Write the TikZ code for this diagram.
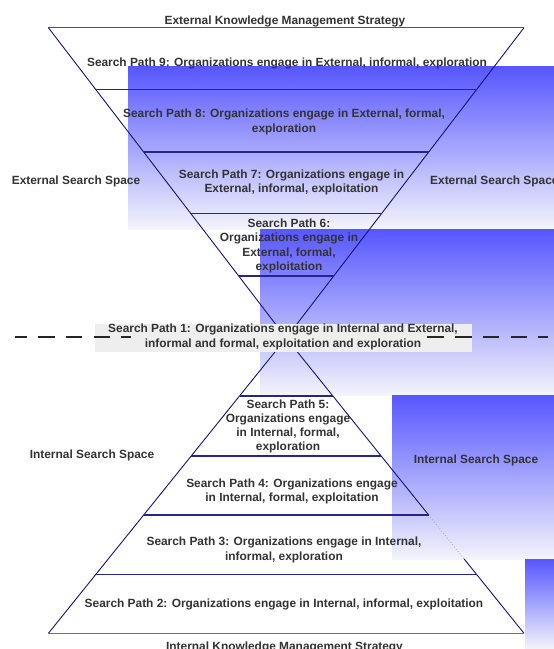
\documentclass[tikz,border=0pt]{standalone}
\usepackage{fontspec}
\setmainfont{Liberation Sans}
\usetikzlibrary{calc}
\definecolor{edgeblue}{HTML}{12127F}
\definecolor{divblue}{HTML}{262688}
\definecolor{rimblue}{HTML}{4B4BAE}
\definecolor{baseblue}{HTML}{6A6AB0}
\definecolor{labelgray}{HTML}{333333}
\definecolor{shadetop}{HTML}{5656FF}
\definecolor{shadebot}{HTML}{F4F4FB}
\definecolor{pathbox}{HTML}{EEEEEE}
\begin{document}
\begin{tikzpicture}[x=1pt,y=-1pt,
  lbl/.style={font=\bfseries\fontsize{11.9}{14.2}\selectfont, text=labelgray, align=center, inner sep=0pt},
  band/.style={top color=shadetop, bottom color=shadebot, draw=none},
  rim/.style={draw=rimblue, line width=1.1pt},
  baserim/.style={draw=baseblue, line width=1.1pt},
  side/.style={draw=edgeblue, line width=0.9pt},
  faintside/.style={draw=edgeblue!35!white, line width=0.9pt, dotted},
  divider/.style={draw=divblue, line width=1.6pt},
  splitline/.style={draw=black!85, line width=2pt, dash pattern=on 16.5pt off 11.3pt, dash phase=4.8pt},
]
\useasboundingbox (0,0) rectangle (554,649);

% shaded search-space bands, stepping to the right
\shade[band] (128,66) rectangle (554,229);
\shade[band] (260,229) rectangle (554,395);
\shade[band] (392,395) rectangle (554,559);
\shade[band] (525,559) rectangle (554,649);

% hourglass outline
\coordinate (apex) at (286.2,338);
\coordinate (tl) at (48.4,27.7);
\coordinate (tr) at (524,27.7);
\coordinate (bl) at (48.4,633.3);
\coordinate (br) at (524,633.3);
\coordinate (bhid) at (464.2,559);

% dividers of the external (upper) funnel
\coordinate (t1l) at (95.8,89.5);   \coordinate (t1r) at (476.6,89.5);
\coordinate (t2l) at (143.7,152);   \coordinate (t2r) at (428.7,152);
\coordinate (t3l) at (190.8,213.5); \coordinate (t3r) at (381.6,213.5);
\coordinate (t4l) at (238.7,276);   \coordinate (t4r) at (333.7,276);
% dividers of the internal (lower) pyramid
\coordinate (b1l) at (239.5,396);   \coordinate (b1r) at (332.9,396);
\coordinate (b2l) at (191.2,456);   \coordinate (b2r) at (381.2,456);
\coordinate (b3l) at (143.7,515);   \coordinate (b3r) at (428.7,515);
\coordinate (b4l) at (95.8,574.5);  \coordinate (b4r) at (476.6,574.5);

\draw[rim] (tl) -- (tr);
\draw[side] (tl) -- (apex);
\draw[side] (tr) -- (apex);
\draw[side] (apex) -- (bl);
\draw[side] (apex) -- (b3r);
\draw[faintside] (b3r) -- (bhid);
\draw[side] (bhid) -- (br);
\draw[baserim] (bl) -- (br);

\foreach \n in {t1,t2,t3,t4,b1,b2,b3,b4}
  \draw[divider] (\n l) -- (\n r);

% shared path across both spaces, with the split line
\fill[pathbox] (95,324) rectangle (472,352);
\coordinate (dl) at (15,337);
\coordinate (dr) at (548,337);
\draw[splitline] (dl) -- (dr);
\fill[pathbox] (131,325) rectangle (426,351);
\node[lbl] (p1) at (283,337) {Search Path 1: Organizations engage in Internal and External,\\informal and formal, exploitation and exploration};

% labels
\node[lbl] (ktop) at (285,21) {External Knowledge Management Strategy};
\node[lbl] (p9) at (287,63) {Search Path 9: Organizations engage in External, informal, exploration};
\node[lbl] (p8) at (284,122) {Search Path 8: Organizations engage in External, formal,\\exploration};
\node[lbl] (p7) at (291.5,182.5) {Search Path 7: Organizations engage in\\External, informal, exploitation};
\node[lbl] (p6) at (289,246) {Search Path 6:\\Organizations engage in\\External, formal,\\exploitation};
\node[lbl] (extL) at (76,181) {External Search Space};
\node[lbl,anchor=west] (extR) at (430,181) {External Search Space};

\node[lbl] (p5) at (288,426.5) {Search Path 5:\\Organizations engage\\in Internal, formal,\\exploration};
\node[lbl] (p4) at (292,491.3) {Search Path 4: Organizations engage\\in Internal, formal, exploitation};
\node[lbl] (p3) at (284,550) {Search Path 3: Organizations engage in Internal,\\informal, exploration};
\node[lbl] (p2) at (284,604.3) {Search Path 2: Organizations engage in Internal, informal, exploitation};
\node[lbl] (intL) at (92,455) {Internal Search Space};
\node[lbl] (intR) at (476,460) {Internal Search Space};
\node[lbl,anchor=base] (kbot) at (284.5,650.5) {Internal Knowledge Management Strategy};
\end{tikzpicture}
\end{document}
